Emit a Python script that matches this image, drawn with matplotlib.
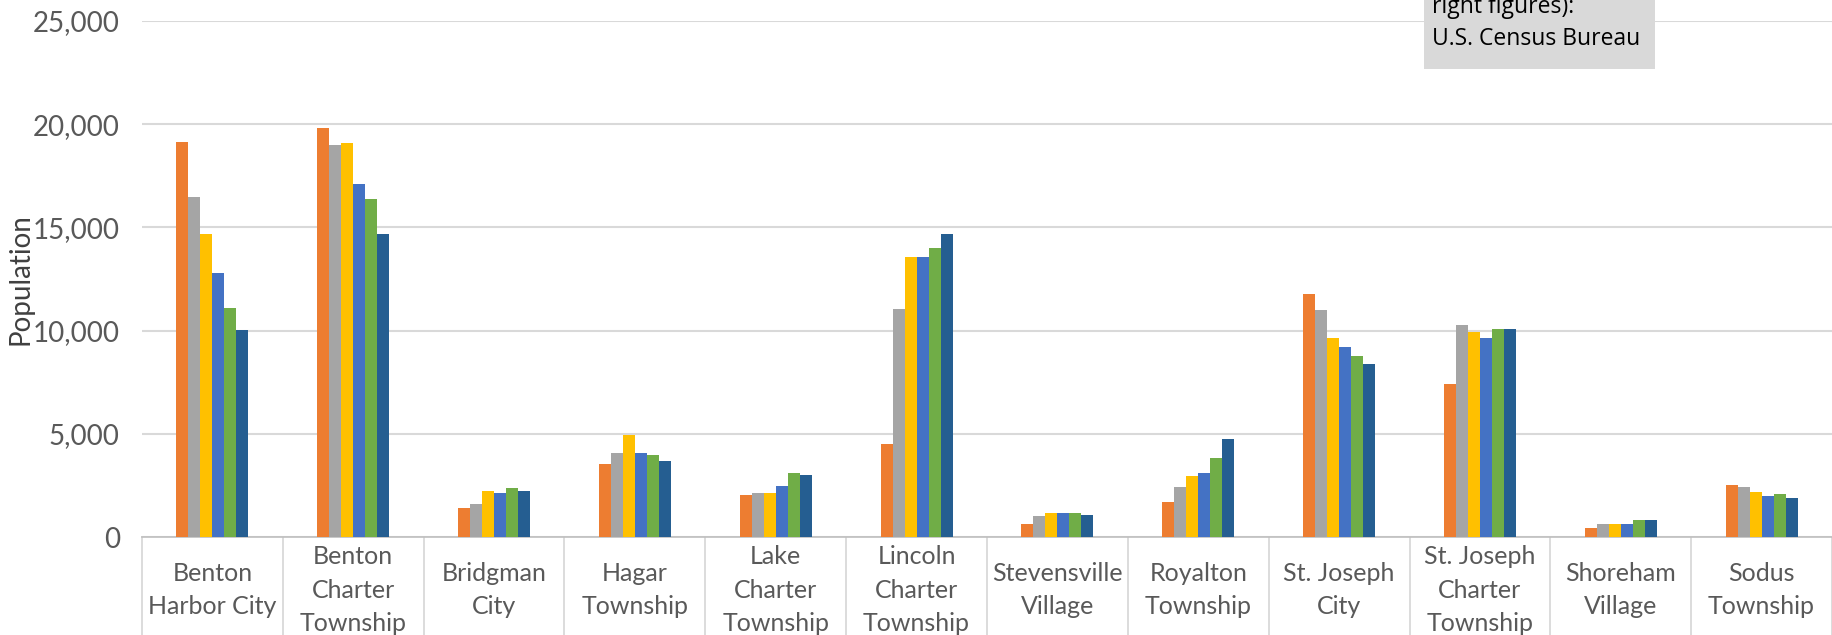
import numpy as np
import matplotlib.pyplot as plt
import matplotlib.patches as mpatches
import matplotlib.transforms as mtransforms

# municipalities along the x axis
places = ["Benton\nHarbor City", "Benton\nCharter\nTownship", "Bridgman\nCity",
          "Hagar\nTownship", "Lake\nCharter\nTownship", "Lincoln\nCharter\nTownship",
          "Stevensville\nVillage", "Royalton\nTownship", "St. Joseph\nCity",
          "St. Joseph\nCharter\nTownship", "Shoreham\nVillage", "Sodus\nTownship"]

# census counts, one list per decade (legend is cropped out of the reference)
pop_1960 = [19140, 19840, 1400, 3540, 2040, 4500, 650, 1700, 11750, 7420, 450, 2520]
pop_1970 = [16480, 18990, 1600, 4070, 2120, 11040, 1040, 2430, 11000, 10260, 640, 2420]
pop_1980 = [14690, 19110, 2250, 4950, 2120, 13560, 1170, 2970, 9620, 9950, 640, 2200]
pop_1990 = [12800, 17100, 2140, 4070, 2470, 13560, 1170, 3080, 9220, 9640, 640, 2000]
pop_2000 = [11100, 16370, 2350, 3960, 3110, 13980, 1170, 3810, 8790, 10060, 830, 2080]
pop_2010 = [10040, 14680, 2250, 3660, 3000, 14700, 1060, 4770, 8370, 10060, 840, 1900]

series = [pop_1960, pop_1970, pop_1980, pop_1990, pop_2000, pop_2010]
colors = ["#ED7D31", "#A5A5A5", "#FFC000", "#4472C4", "#70AD47", "#255E91"]

yticks = [0, 5000, 10000, 15000, 20000, 25000]

fig = plt.figure(figsize=(18.32, 6.35), dpi=100)
ax = fig.add_axes([142 / 1832, 98 / 635, 1690 / 1832, 516 / 635])

x = np.arange(len(places))
bw = 0.0852
for i, (vals, c) in enumerate(zip(series, colors)):
    ax.bar(x + (i - 2.5) * bw, vals, width=bw, color=c, zorder=3)

ax.set_xlim(-0.5, len(places) - 0.5)
ax.set_ylim(0, 25000)
ax.set_yticks(yticks)
ax.set_yticklabels([f"{v:,}" for v in yticks], fontsize=20, color="#595959", family="Lato")
ax.tick_params(axis="y", length=0, pad=16)
ax.set_xticks([])
ax.grid(axis="y", color="#D9D9D9", linewidth=1.5, zorder=0)
for s in ["top", "right", "left"]:
    ax.spines[s].set_visible(False)
ax.spines["bottom"].set_color("#BFBFBF")
ax.spines["bottom"].set_linewidth(1.2)

ax.set_ylabel("Population", fontsize=20, color="#404040", family="Lato", va="center")
ax.yaxis.set_label_coords(-121 / 1690, 0.5)

# category boxes under the axis
trans = mtransforms.blended_transform_factory(ax.transData, ax.transAxes)
for b in np.arange(-0.5, len(places), 1.0):
    ax.plot([b, b], [0, -0.25], transform=trans, color="#D9D9D9",
            linewidth=1.3, clip_on=False)
for xi, name in zip(x, places):
    ax.text(xi, -53 / 516, name, transform=trans, ha="center", va="center",
            fontsize=18, color="#595959", family="Lato", linespacing=1.55)

# source note box, cut off at the top
fig.patches.append(mpatches.Rectangle((1424 / 1832, (635 - 69) / 635), 231 / 1832, 0.2,
                                      transform=fig.transFigure, facecolor="#D9D9D9",
                                      edgecolor="none", zorder=5))
fig.text(1432 / 1832, (635 - 13) / 635, "right figures):", fontsize=16.5,
         family="Open Sans", color="black", va="baseline", zorder=6)
fig.text(1432 / 1832, (635 - 45) / 635, "U.S. Census Bureau", fontsize=16.5,
         family="Open Sans", color="black", va="baseline", zorder=6)

fig.savefig("out.png", dpi=100)
